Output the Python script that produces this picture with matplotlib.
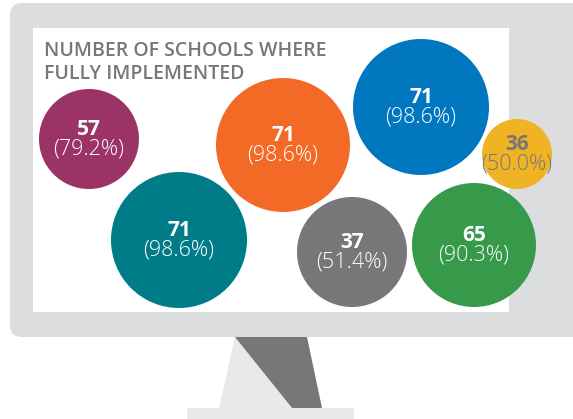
import matplotlib
matplotlib.use("Agg")
import matplotlib.pyplot as plt
from matplotlib.patches import Circle, Rectangle, Polygon, FancyBboxPatch

# ---- data ----
title = "NUMBER OF SCHOOLS WHERE\nFULLY IMPLEMENTED"
values = [57, 71, 71, 71, 36, 37, 65]
percents = ["(79.2%)", "(98.6%)", "(98.6%)", "(98.6%)", "(50.0%)", "(51.4%)", "(90.3%)"]

# ---- layout / styles ----
centers_x = [89, 179, 283, 421, 517, 352, 474]
centers_y = [139, 240, 145, 107, 154, 252, 245]
radii = [50, 68, 67, 68, 35, 55, 62]
colors = ["#9B3366", "#007C89", "#F26A25", "#0077BF", "#F0B323", "#77777A", "#37994A"]
text_colors = ["white", "white", "white", "white", "#77777A", "white", "white"]

W, H = 573, 419
fig = plt.figure(figsize=(W / 100, H / 100), dpi=100)
ax = fig.add_axes([0, 0, 1, 1])
ax.set_xlim(0, W)
ax.set_ylim(H, 0)
ax.set_aspect("equal")
ax.axis("off")

frame_c = "#DCDDDF"
# monitor frame
ax.add_patch(FancyBboxPatch((10, 3), 620, 334, boxstyle="round,pad=0,rounding_size=12",
                            fc=frame_c, ec="none", zorder=1))
# screen
ax.add_patch(Rectangle((33, 28), 476, 284, fc="white", ec="none", zorder=2))
# stand
ax.add_patch(Polygon([(235, 337), (292, 408), (219, 408)], closed=True, fc="#E9E9E9", ec="none", zorder=1))
ax.add_patch(Polygon([(235, 337), (307, 337), (322, 408), (292, 408)], closed=True, fc="#77777A", ec="none", zorder=1))
ax.add_patch(Rectangle((187, 408), 167, 15, fc="#E9E9E9", ec="none", zorder=1))

ax.text(44, 41, title, ha="left", va="top", fontsize=14, color="#77777A",
        fontfamily="Open Sans", fontweight="semibold", linespacing=1.2, zorder=3)

for v, p, x, y, r, c, tc in zip(values, percents, centers_x, centers_y, radii, colors, text_colors):
    ax.add_patch(Circle((x, y), r, fc=c, ec="none", zorder=4))
    ax.text(x, y - 10, str(v), ha="center", va="center", fontsize=15, color=tc,
            fontfamily="Open Sans", fontweight="bold", zorder=5)
    ax.text(x, y + 10, p, ha="center", va="center", fontsize=15.5, color=tc,
            fontfamily="Open Sans", fontweight="light", zorder=5)

fig.savefig("out.png", dpi=100)
